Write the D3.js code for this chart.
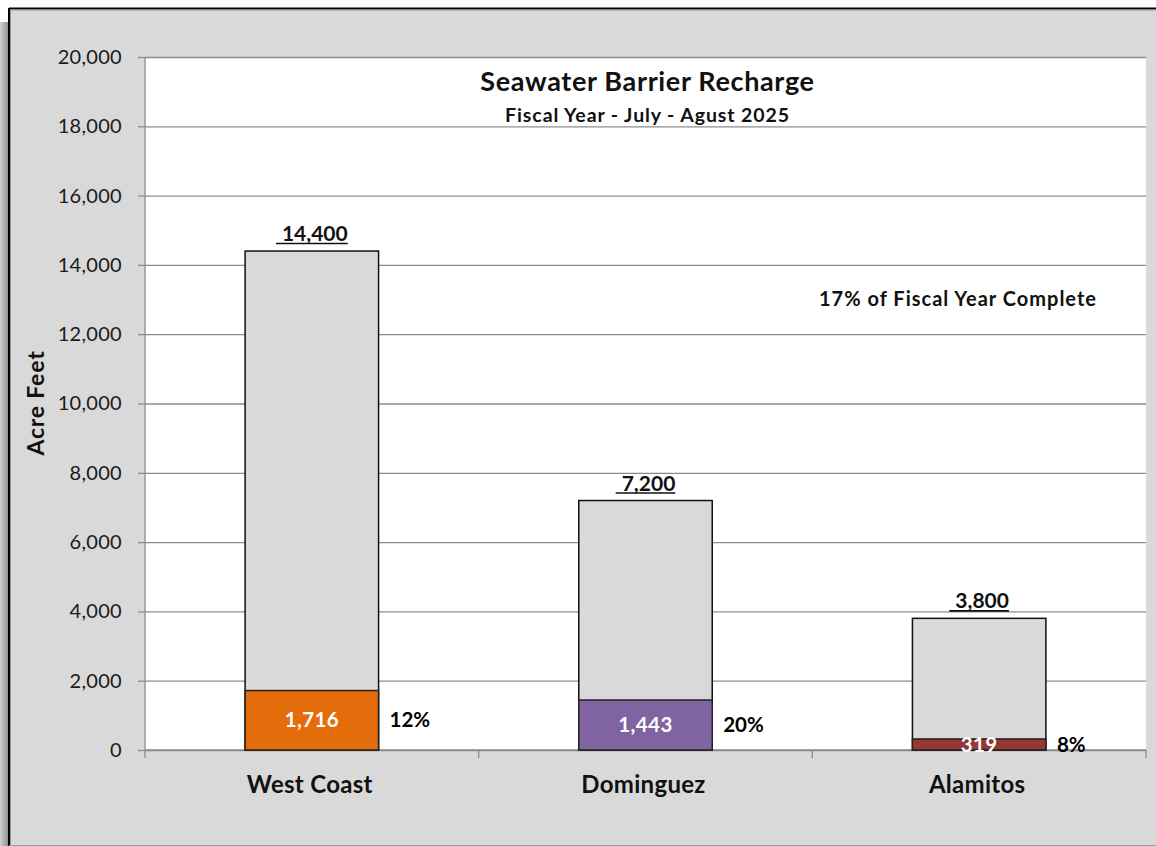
<!DOCTYPE html>
<html>
<head>
<meta charset="utf-8">
<script src="https://cdn.jsdelivr.net/npm/d3@7"></script>
<style>
  body { margin: 0; background: #fff; }
  svg { display: block; font-family: Lato, "Open Sans", sans-serif; }
</style>
</head>
<body>
<svg id="chart" width="1156" height="846"></svg>
<script>
// chart data
var categories = ['West Coast', 'Dominguez', 'Alamitos'];
var totals = [14400, 7200, 3800];
var actuals = [1716, 1443, 319];
var barColors = ['#e46c0a', '#8064a2', '#953735'];
var yTicks = [0, 2000, 4000, 6000, 8000, 10000, 12000, 14000, 16000, 18000, 20000];
var title = 'Seawater Barrier Recharge';
var subtitle = 'Fiscal Year - July - Agust 2025';
var note = '17% of Fiscal Year Complete';

var svg = d3.select('#chart');
var margin = { left: 145, right: 10, top: 57, bottom: 96 };
var width = 1156 - margin.left - margin.right;
var height = 846 - margin.top - margin.bottom;

// frame with shadow
var shadow = svg.append('defs').append('linearGradient')
    .attr('id', 'shade').attr('x1', 0).attr('x2', 1);
shadow.append('stop').attr('offset', 0).attr('stop-color', '#d0d0d0');
shadow.append('stop').attr('offset', 1).attr('stop-color', '#8a8a8a');
svg.append('rect').attr('x', 0).attr('y', 22).attr('width', 9).attr('height', 824)
    .attr('fill', 'url(#shade)');
svg.append('rect').attr('x', 9).attr('y', 8).attr('width', 1147).attr('height', 838)
    .attr('fill', '#d9d9d9');
svg.append('line').attr('x1', 9).attr('x2', 1156).attr('y1', 8.5).attr('y2', 8.5)
    .attr('stroke', '#000').attr('stroke-width', 2);
svg.append('line').attr('x1', 9).attr('x2', 1156).attr('y1', 10).attr('y2', 10)
    .attr('stroke', '#999').attr('stroke-width', 1);
svg.append('line').attr('x1', 9).attr('x2', 9).attr('y1', 8).attr('y2', 846)
    .attr('stroke', '#000').attr('stroke-width', 2);
svg.append('line').attr('x1', 10.5).attr('x2', 10.5).attr('y1', 10).attr('y2', 846)
    .attr('stroke', '#999').attr('stroke-width', 1);
svg.append('line').attr('x1', 9).attr('x2', 1156).attr('y1', 845.5).attr('y2', 845.5)
    .attr('stroke', '#9a9a9a').attr('stroke-width', 1);

var g = svg.append('g').attr('transform', 'translate(' + margin.left + ',' + margin.top + ')');

var x = d3.scaleBand().domain(categories).range([0, width])
    .paddingInner(0.6).paddingOuter(0.3);
var y = d3.scaleLinear().domain([0, 20000]).range([height, 0]);

g.append('rect').attr('width', width).attr('height', height).attr('fill', '#fff');

// gridlines
g.append('g')
    .call(d3.axisLeft(y).tickValues(yTicks).tickSize(-width).tickFormat(''))
    .call(s => s.select('.domain').remove())
    .call(s => s.selectAll('line').attr('stroke', '#8c8c8c').attr('stroke-width', 1.3));

// y axis
var yAxis = g.append('g')
    .call(d3.axisLeft(y).tickValues(yTicks).tickSize(7).tickPadding(16).tickFormat(d3.format(',')));
yAxis.select('.domain').attr('stroke', '#8c8c8c').attr('stroke-width', 1.3)
    .attr('d', 'M0,0V' + (height + 8));
yAxis.selectAll('line').attr('stroke', '#8c8c8c').attr('stroke-width', 1.3);
yAxis.selectAll('text').attr('font-size', 20).attr('fill', '#1a1a1a')
    .attr('font-family', 'Lato, sans-serif').attr('letter-spacing', 0.3);

// x axis
g.append('line').attr('x1', 0).attr('x2', width).attr('y1', height).attr('y2', height)
    .attr('stroke', '#8c8c8c').attr('stroke-width', 1.3);
g.selectAll('.xtick').data(categories).enter().append('line')
    .attr('class', 'xtick')
    .attr('x1', d => x(d) + x.bandwidth() / 2 + x.step() / 2)
    .attr('x2', d => x(d) + x.bandwidth() / 2 + x.step() / 2)
    .attr('y1', height).attr('y2', height + 8)
    .attr('stroke', '#8c8c8c').attr('stroke-width', 1.3);
g.selectAll('.xlabel').data(categories).enter().append('text')
    .attr('class', 'xlabel')
    .attr('x', d => x(d) + x.bandwidth() / 2 - 2)
    .attr('y', height + 43)
    .attr('text-anchor', 'middle')
    .attr('font-size', 24).attr('font-weight', 'bold').attr('fill', '#111')
    .attr('letter-spacing', 0.3)
    .text(d => d);

var rows = categories.map((c, i) => ({ name: c, total: totals[i], actual: actuals[i], color: barColors[i] }));

// total bars
g.selectAll('.total').data(rows).enter().append('rect')
    .attr('class', 'total')
    .attr('x', d => x(d.name))
    .attr('y', d => y(d.total))
    .attr('width', x.bandwidth())
    .attr('height', d => height - y(d.total))
    .attr('fill', '#d9d9d9').attr('stroke', '#111').attr('stroke-width', 1.5);

// actual bars
g.selectAll('.actual').data(rows).enter().append('rect')
    .attr('class', 'actual')
    .attr('x', d => x(d.name))
    .attr('y', d => y(d.actual))
    .attr('width', x.bandwidth())
    .attr('height', d => height - y(d.actual))
    .attr('fill', d => d.color).attr('stroke', '#222').attr('stroke-width', 1.5);

// values inside the actual bars
g.selectAll('.val').data(rows).enter().append('text')
    .attr('class', 'val')
    .attr('x', d => x(d.name) + x.bandwidth() / 2)
    .attr('y', d => (y(d.actual) + height) / 2)
    .attr('dy', '0.35em')
    .attr('text-anchor', 'middle')
    .attr('font-size', 20.5).attr('font-weight', 'bold').attr('fill', '#fff')
    .attr('letter-spacing', 0.4)
    .text(d => d3.format(',')(d.actual));

// percent labels
g.selectAll('.pct').data(rows).enter().append('text')
    .attr('class', 'pct')
    .attr('x', d => x(d.name) + x.bandwidth() + 11)
    .attr('y', d => (y(d.actual) + height) / 2)
    .attr('dy', '0.35em')
    .attr('font-size', 20.5).attr('font-weight', 'bold').attr('fill', '#000')
    .text(d => d3.format('.0%')(d.actual / d.total));

// total labels, underlined
var totLab = g.selectAll('.tot').data(rows).enter().append('g').attr('class', 'tot');
totLab.append('text')
    .attr('x', d => x(d.name) + x.bandwidth() / 2 + 3)
    .attr('y', d => y(d.total) - 10)
    .attr('text-anchor', 'middle')
    .attr('font-size', 21).attr('font-weight', 'bold').attr('fill', '#111')
    .text(d => d3.format(',')(d.total));
totLab.each(function () {
    var t = d3.select(this).select('text');
    var b = t.node().getBBox();
    d3.select(this).append('line')
        .attr('x1', b.x - 6).attr('x2', b.x + b.width)
        .attr('y1', +t.attr('y') + 2.5).attr('y2', +t.attr('y') + 2.5)
        .attr('stroke', '#111').attr('stroke-width', 1.6);
});

// titles
svg.append('text').attr('x', margin.left + width / 2 + 2).attr('y', 91)
    .attr('text-anchor', 'middle').attr('font-size', 27).attr('font-weight', 'bold').attr('fill', '#111')
    .attr('letter-spacing', 0.65)
    .text(title);
svg.append('text').attr('x', margin.left + width / 2 + 2).attr('y', 122)
    .attr('text-anchor', 'middle').attr('font-size', 19.5).attr('font-weight', 'bold').attr('fill', '#111')
    .attr('letter-spacing', 0.9)
    .text(subtitle);
svg.append('text').attr('x', 958).attr('y', 306)
    .attr('text-anchor', 'middle').attr('font-size', 20).attr('font-weight', 'bold').attr('fill', '#111')
    .attr('letter-spacing', 1)
    .text(note);

// y axis title
svg.append('text')
    .attr('transform', 'translate(44,403) rotate(-90)')
    .attr('text-anchor', 'middle').attr('font-size', 23).attr('font-weight', 'bold').attr('fill', '#111')
    .attr('letter-spacing', 0.8)
    .text('Acre Feet');
</script>
</body>
</html>
